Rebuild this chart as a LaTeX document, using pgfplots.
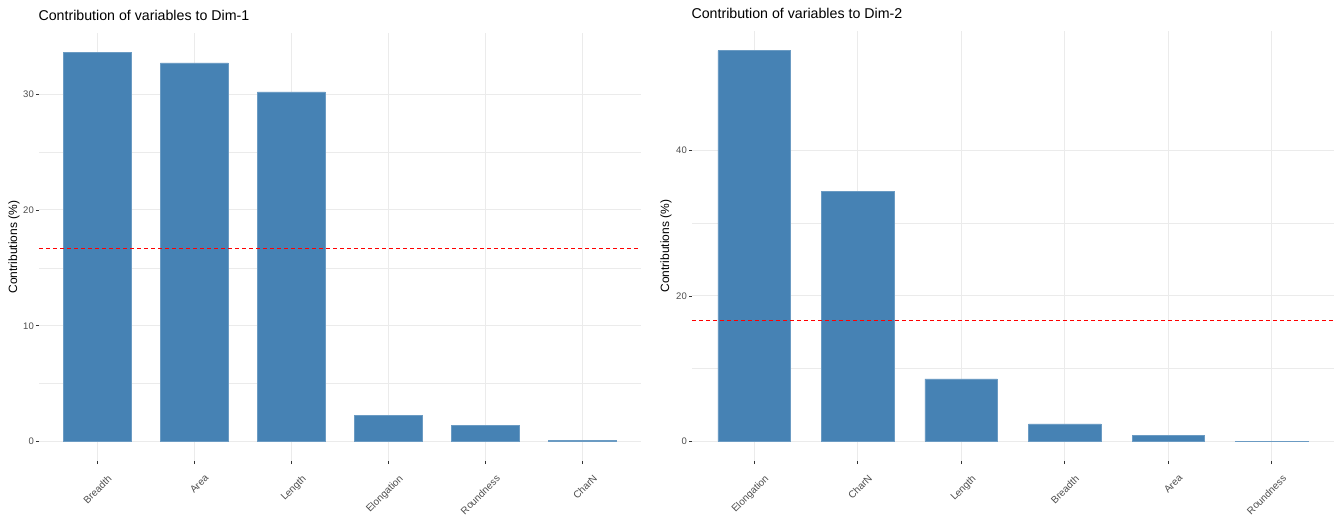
\documentclass[border=0pt]{standalone}
\usepackage{pgfplots}
\pgfplotsset{compat=1.18}
\usepackage{fontspec}
\setmainfont{Liberation Sans}

\definecolor{barblue}{RGB}{70,130,180}
\definecolor{gridgray}{RGB}{235,235,235}
\definecolor{ticktext}{RGB}{77,77,77}
\definecolor{tickmark}{RGB}{51,51,51}

\pgfplotsset{
  contribpanel/.style={
    scale only axis,
    anchor=south west,
    axis x line*=bottom,
    axis y line*=left,
    axis line style={draw=none},
    xmin=0.4, xmax=6.6,
    xtick={1,2,3,4,5,6},
    tick align=outside,
    major tick length=3pt,
    minor tick length=0pt,
    tick style={tickmark, line width=0.8pt},
    minor tick num=1,
    ymajorgrids, yminorgrids, xmajorgrids,
    major grid style={gridgray, line width=1pt},
    minor grid style={gridgray, line width=0.55pt},
    /pgf/number format/assume math mode=true,
    yticklabel style={font=\fontsize{9.5}{11}\selectfont, text=ticktext, inner sep=2pt},
    xticklabel style={font=\fontsize{10}{12}\selectfont, text=ticktext,
      rotate=45, anchor=north east, inner sep=1pt, yshift=-13pt, xshift=1pt},
    ylabel={Contributions (\%)},
    ylabel style={font=\fontsize{12}{14}\selectfont, at={(axis description cs:0,0.5)}, anchor=center},
    title style={font=\fontsize{14.2}{16}\selectfont, at={(axis description cs:0,1)}, anchor=base west, yshift=6pt, xshift=-4pt},
    clip=false,
  },
  contribbars/.style={ybar, bar width=0.7, fill=barblue, draw=barblue!80!white, line width=0.6pt},
  cutoff/.style={red, line width=0.9pt, dash pattern=on 4pt off 3pt},
}

\begin{document}
\begin{tikzpicture}[x=1pt, y=1pt]
\path (0,0) rectangle (1335,-512);

% Dimension 1
\begin{axis}[contribpanel,
  at={(39pt,-461pt)}, width=602pt, height=428pt,
  ymin=-1.68, ymax=35.28,
  ytick={0,10,20,30},
  xticklabels={Breadth,Area,Length,Elongation,Roundness,CharN},
  ylabel style={yshift=25pt},
  title={Contribution of variables to Dim-1}]
\addplot[contribbars] coordinates {(1,33.6) (2,32.7) (3,30.2) (4,2.24) (5,1.38) (6,0.1)};
\addplot[cutoff] coordinates {(0.4,16.667) (6.6,16.667)};
\end{axis}

% Dimension 2
\begin{axis}[contribpanel,
  at={(692pt,-461pt)}, width=642pt, height=430pt,
  ymin=-2.685, ymax=56.4,
  ytick={0,20,40},
  xticklabels={Elongation,CharN,Length,Breadth,Area,Roundness},
  ylabel style={yshift=26pt},
  title={Contribution of variables to Dim-2}]
\addplot[contribbars] coordinates {(1,53.7) (2,34.4) (3,8.6) (4,2.4) (5,0.85) (6,0.05)};
\addplot[cutoff] coordinates {(0.4,16.667) (6.6,16.667)};
\end{axis}
\end{tikzpicture}
\end{document}
